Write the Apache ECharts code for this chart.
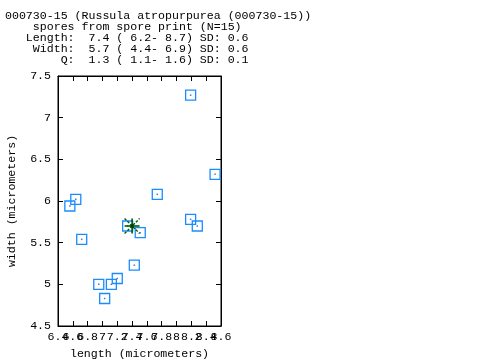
<!DOCTYPE html>
<html>
<head>
<meta charset="utf-8">
<script src="https://cdn.jsdelivr.net/npm/echarts@6/dist/echarts.min.js"></script>
<style>
html,body{margin:0;padding:0;background:#fff;}
#chart{width:480px;height:360px;}
</style>
</head>
<body>
<div id="chart"></div>
<script>
const titleLines = [
  "000730-15 (Russula atropurpurea (000730-15))",
  "    spores from spore print (N=15)",
  "   Length:  7.4 ( 6.2- 8.7) SD: 0.6",
  "    Width:  5.7 ( 4.4- 6.9) SD: 0.6",
  "        Q:  1.3 ( 1.1- 1.6) SD: 0.1"
];
const lengths = [8.19, 8.52, 7.74, 6.64, 6.56, 6.72, 7.34, 7.51, 8.19, 8.28, 7.43, 7.20, 6.95, 7.12, 7.03];
const widths  = [7.27, 6.32, 6.08, 6.02, 5.94, 5.54, 5.70, 5.62, 5.78, 5.70, 5.23, 5.07, 5.00, 5.00, 4.83];
const meanLength = [7.4];
const meanWidth = [5.7];
const xMin = 6.4, xMax = 8.6, xStep = 0.2;
const yMin = 4.5, yMax = 7.5, yStep = 0.5;
// labels next to the axis ends, drawn on a second label-only axis so none is dropped
const xEdgeNeighbourLabels = ["6.6", "8.4"];
const xName = "length (micrometers)";
const yName = "width (micrometers)";

const FONT = "Liberation Mono";
const FS = 11.6;
const points = lengths.map((l, i) => [l, widths[i]]);
const meanPt = meanLength.map((l, i) => [l, meanWidth[i]]);
const fmt = v => String(Math.round(v * 10) / 10);

const chart = echarts.init(document.getElementById('chart'), null, {renderer: 'canvas'});
const axisCommon = {
  axisLine: {show: true, lineStyle: {color: '#000', width: 1}},
  axisTick: {show: true, inside: true, length: 5, lineStyle: {color: '#000'}},
  splitLine: {show: false}
};
const labelStyle = {fontFamily: FONT, fontSize: FS, color: '#000'};
chart.setOption({
  animation: false,
  backgroundColor: '#fff',
  title: {
    text: titleLines.join('\n'),
    left: 5, top: 10, padding: 0,
    textStyle: {fontFamily: FONT, fontSize: FS, fontWeight: 'normal', color: '#000', lineHeight: 11.1}
  },
  grid: {left: 58, right: 259, top: 76, bottom: 34, show: true, borderColor: '#000', borderWidth: 1,
    containLabel: false, outerBoundsMode: 'none'},
  xAxis: [
    Object.assign({
      type: 'value', min: xMin, max: xMax, interval: xStep, position: 'bottom',
      name: xName, nameLocation: 'middle', nameGap: 22,
      nameTextStyle: labelStyle,
      axisLabel: Object.assign({show: true, interval: 0, hideOverlap: false, showMinLabel: true, showMaxLabel: true,
        margin: 5, formatter: v => (xEdgeNeighbourLabels.indexOf(fmt(v)) >= 0 ? '' : fmt(v))}, labelStyle)
    }, axisCommon),
    Object.assign({
      type: 'value', min: xMin, max: xMax, interval: xStep, position: 'top',
      axisLabel: {show: false}
    }, axisCommon),
    {
      type: 'value', min: xMin, max: xMax, interval: xStep, position: 'bottom',
      axisLine: {show: false}, axisTick: {show: false}, splitLine: {show: false},
      axisLabel: Object.assign({show: true, interval: 0, hideOverlap: false, showMinLabel: true, showMaxLabel: true,
        margin: 5, formatter: v => (xEdgeNeighbourLabels.indexOf(fmt(v)) >= 0 ? fmt(v) : '')}, labelStyle)
    }
  ],
  yAxis: [
    Object.assign({
      type: 'value', min: yMin, max: yMax, interval: yStep, position: 'left',
      name: yName, nameLocation: 'middle', nameGap: 40,
      nameTextStyle: labelStyle,
      axisLabel: Object.assign({show: true, margin: 7}, labelStyle)
    }, axisCommon),
    Object.assign({
      type: 'value', min: yMin, max: yMax, interval: yStep, position: 'right',
      axisLabel: {show: false}
    }, axisCommon)
  ],
  series: [
    {
      type: 'scatter', data: points, symbol: 'rect', symbolSize: 10,
      itemStyle: {color: 'rgba(0,0,0,0)', borderColor: '#1a8cff', borderWidth: 1.3, opacity: 1}
    },
    {
      type: 'scatter', data: points, symbol: 'rect', symbolSize: 1.5,
      itemStyle: {color: '#1060c0'}
    },
    {
      type: 'custom', data: meanPt, z: 5,
      renderItem: function (params, api) {
        const c = api.coord([api.value(0), api.value(1)]);
        const r = 7.5;
        const solid = {stroke: '#005a00', lineWidth: 1.6};
        const dashed = {stroke: '#005a00', lineWidth: 1.4, lineDash: [2.5, 1.5]};
        return {
          type: 'group',
          children: [
            {type: 'line', shape: {x1: c[0] - r, y1: c[1], x2: c[0] + r, y2: c[1]}, style: solid},
            {type: 'line', shape: {x1: c[0], y1: c[1] - r, x2: c[0], y2: c[1] + r}, style: solid},
            {type: 'line', shape: {x1: c[0] - r, y1: c[1] - r, x2: c[0] + r, y2: c[1] + r}, style: dashed},
            {type: 'line', shape: {x1: c[0] - r, y1: c[1] + r, x2: c[0] + r, y2: c[1] - r}, style: dashed},
            {type: 'rect', shape: {x: c[0] - 1.5, y: c[1] - 1.5, width: 3, height: 3}, style: {fill: '#003a00'}}
          ]
        };
      }
    }
  ]
});
</script>
</body>
</html>
